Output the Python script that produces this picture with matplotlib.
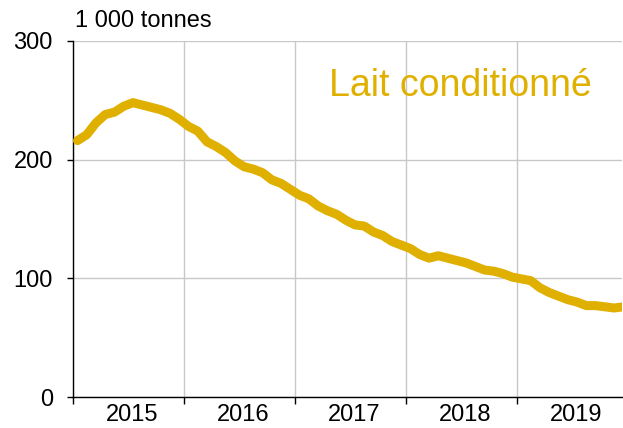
import numpy as np
import matplotlib
matplotlib.use("Agg")
import matplotlib.pyplot as plt
from matplotlib.ticker import FixedLocator, NullFormatter

# Monthly volumes, Jan 2015 .. Dec 2019 (1 000 tonnes)
YEARS = [2015, 2016, 2017, 2018, 2019]
VOLUMES = [
    216, 221, 231, 238, 240, 245, 248, 246, 244, 242, 239, 234,
    228, 224, 215, 211, 206, 199, 194, 192, 189, 183, 180, 175,
    170, 167, 161, 157, 154, 149, 145, 144, 139, 136, 131, 128,
    125, 120, 117, 119, 117, 115, 113, 110, 107, 106, 104, 101,
    99.5, 98, 92, 88, 85, 82, 80, 77, 77, 76, 75, 76,
]
UNIT_LABEL = "1 000 tonnes"
SERIES_LABEL = "Lait conditionné"

GOLD = "#E0B000"
GRID = "#C8C8C8"
FONT = "Liberation Sans"
FS = 17

plt.rcParams["font.family"] = [FONT, "DejaVu Sans"]

fig = plt.figure(figsize=(6.23, 4.28), dpi=100)
ax = fig.add_axes([0.117, 0.0724, 0.882, 0.832])

x = np.arange(len(VOLUMES)) + 0.5
ax.plot(x, VOLUMES, color=GOLD, linewidth=6.5, solid_capstyle="round",
        solid_joinstyle="round", zorder=3)

x_max = 59.4
ax.set_xlim(0, x_max)
ax.set_ylim(0, 300)

# year boundaries as major ticks, year names on minor ticks
bounds = [12 * i for i in range(len(YEARS))]
ax.xaxis.set_major_locator(FixedLocator(bounds))
ax.xaxis.set_major_formatter(NullFormatter())
ax.xaxis.set_minor_locator(FixedLocator([b + 6.45 for b in bounds]))
ax.set_xticklabels([str(y) for y in YEARS], minor=True)
ax.tick_params(axis="x", which="major", length=5, width=1, direction="out")
ax.tick_params(axis="x", which="minor", length=0, pad=5, labelsize=FS)

ax.set_yticks([0, 100, 200, 300])
ax.tick_params(axis="y", length=4.5, width=1, direction="out", pad=10,
               labelsize=FS)

ax.grid(True, which="major", color=GRID, linewidth=1)
ax.set_axisbelow(True)

for side in ("top", "right"):
    ax.spines[side].set_visible(False)
for side in ("left", "bottom"):
    ax.spines[side].set_linewidth(1)
    ax.spines[side].set_color("black")

fig.text(0.121, 0.952, UNIT_LABEL, fontsize=FS, ha="left", va="center")
ax.text(0.705, 0.873, SERIES_LABEL, transform=ax.transAxes, color=GOLD,
        fontsize=27, ha="center", va="center")

fig.savefig("out.png", dpi=100)
